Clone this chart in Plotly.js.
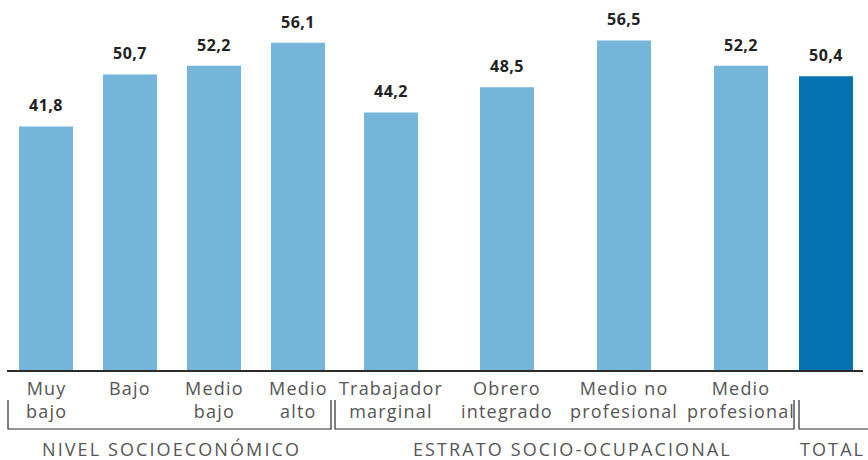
<!DOCTYPE html>
<html>
<head>
<meta charset="utf-8">
<script src="https://cdn.plot.ly/plotly-3.0.1.min.js"></script>
<style>html,body{margin:0;padding:0;background:#fff;}#chart{width:868px;height:460px;}</style>
</head>
<body>
<div id="chart"></div>
<script>
// ---- data ----
const categories = ["Muy<br>bajo", "Bajo", "Medio<br>bajo", "Medio<br>alto", "Trabajador<br>marginal", "Obrero<br>integrado", "Medio no<br>profesional", "Medio<br>profesional", ""];
const values = [41.8, 50.7, 52.2, 56.1, 44.2, 48.5, 56.5, 52.2, 50.4];
const valueLabels = ["41,8", "50,7", "52,2", "56,1", "44,2", "48,5", "56,5", "52,2", "50,4"];
const groupLabels = ["NIVEL SOCIOECONÓMICO", "ESTRATO SOCIO-OCUPACIONAL", "TOTAL"];

// ---- layout helpers (positions, not data) ----
const W = 868, H = 460, baseline = 371, ppu = 5.85;
const barPos = [46, 130, 214, 298, 391, 507, 624, 741, 826];
const barColors = ["#74b5d9","#74b5d9","#74b5d9","#74b5d9","#74b5d9","#74b5d9","#74b5d9","#74b5d9","#0573b1"];
const yMax = baseline / ppu;
const px = p => p / W;                     // pixel column -> paper x
const py = p => (baseline - p) / baseline; // pixel row -> paper y
const spaced = (t, ls) => t.split("<br>").map(l => `<span style="letter-spacing:${ls}px">${l}</span>`).join("<br>");

const groups = [
  {x0: 8, x1: 331, cx: 171},
  {x0: 335, x1: 794, cx: 572},
  {x0: 799, x1: 875, cx: 832}
];
const FONT = "Open Sans, sans-serif";

const shapes = [];
const lineStyle = {color: "#2b2b2b", width: 1.2};
shapes.push({type: "line", xref: "paper", yref: "paper", x0: px(7), x1: px(863), y0: 0, y1: 0, line: {color: "#2b2b2b", width: 2}});
groups.forEach(g => {
  shapes.push({type: "path", xref: "paper", yref: "paper",
    path: `M ${px(g.x0)} ${py(400)} L ${px(g.x0)} ${py(429)} L ${px(g.x1)} ${py(429)} L ${px(g.x1)} ${py(400)}`,
    line: lineStyle});
});

const annotations = [];
values.forEach((v, i) => {
  annotations.push({x: barPos[i], y: v, xref: "x", yref: "y", text: spaced(valueLabels[i], 0.5), showarrow: false,
    yanchor: "bottom", yshift: 8, font: {family: FONT, size: 16, color: "#222", weight: 700}});
});
categories.forEach((c, i) => {
  if (!c) return;
  annotations.push({x: px(barPos[i]), y: py(375), xref: "paper", yref: "paper", text: spaced(c, 1.2), showarrow: false,
    yanchor: "top", xanchor: "center", align: "center", borderpad: 0,
    font: {family: FONT, size: 18, color: "#555"}});
});
groupLabels.forEach((t, i) => {
  annotations.push({x: px(groups[i].cx), y: py(449), xref: "paper", yref: "paper", text: spaced(t, 2.1), showarrow: false,
    yanchor: "middle", xanchor: "center", font: {family: FONT, size: 18, color: "#555"}});
});

const trace = {
  type: "bar",
  x: barPos,
  y: values,
  width: 54,
  marker: {color: barColors},
  hoverinfo: "skip"
};

const layout = {
  width: W, height: H,
  margin: {l: 0, r: 0, t: 0, b: H - baseline, pad: 0},
  paper_bgcolor: "#fff", plot_bgcolor: "#fff",
  showlegend: false,
  xaxis: {range: [0, W], visible: false, fixedrange: true},
  yaxis: {range: [0, yMax], visible: false, fixedrange: true},
  shapes: shapes,
  annotations: annotations
};

Plotly.newPlot("chart", [trace], layout, {displayModeBar: false, staticPlot: true});
</script>
</body>
</html>
